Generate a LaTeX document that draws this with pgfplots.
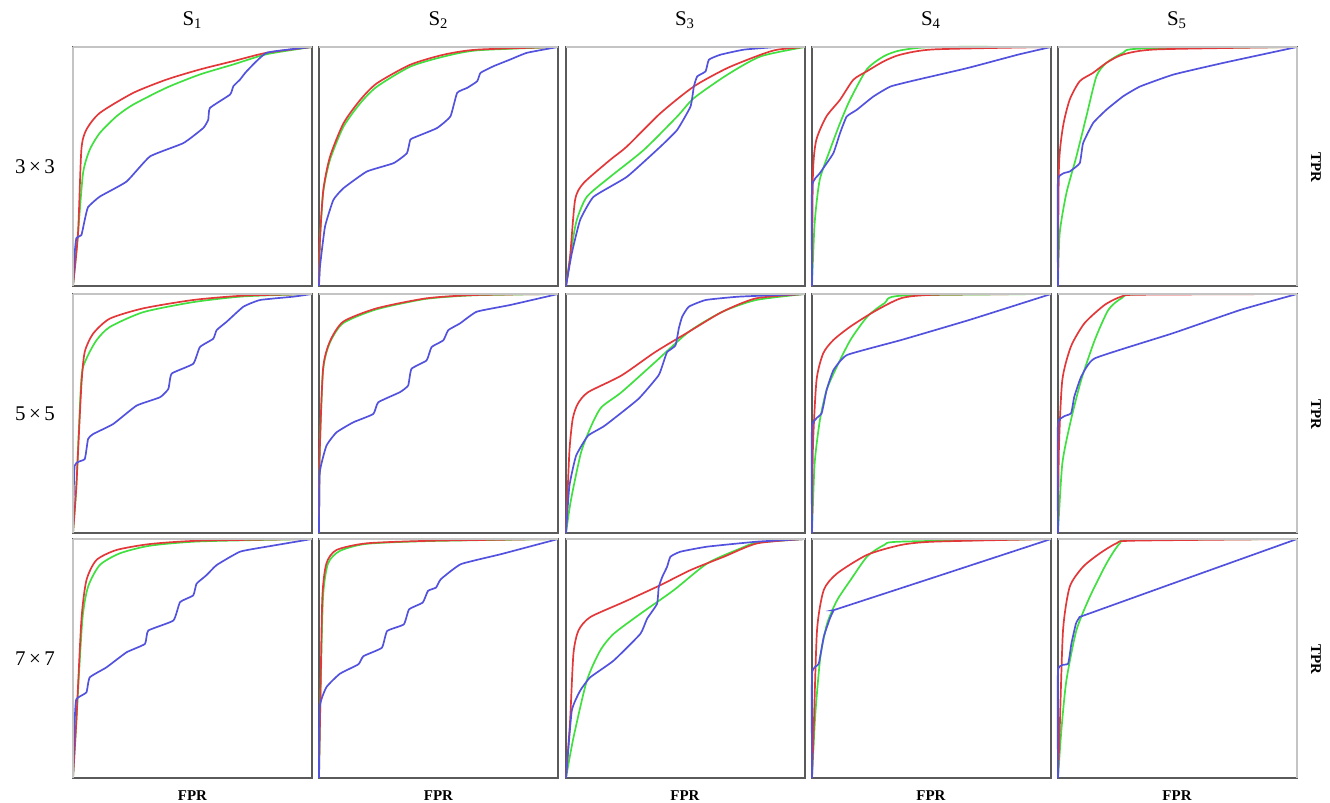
\documentclass[border=0pt]{standalone}
\usepackage{pgfplots}
\pgfplotsset{compat=1.18}
\usepackage{fontspec}
\setmainfont{Liberation Serif}

\definecolor{rocred}{HTML}{E2383A}
\definecolor{rocgreen}{HTML}{3FE03F}
\definecolor{rocblue}{HTML}{5252DE}
\definecolor{framedark}{HTML}{5A5A5A}
\definecolor{framelight}{HTML}{C4C4C4}

\pgfplotsset{
  panel/.style={
    anchor=north west, scale only axis,
    width=119.5bp, height=119.5bp,
    xmin=0, xmax=1, ymin=0, ymax=1,
    ticks=none, clip=false,
    axis line style={draw=framedark, line width=0.9pt},
  },
  rr/.style={rocred, line width=0.85pt, smooth, tension=0.4},
  gg/.style={rocgreen, line width=0.85pt, smooth, tension=0.4},
  bb/.style={rocblue, line width=0.85pt, smooth, tension=0.25},
}

% #1 extra axis keys, #2 x, #3 y, #4 red, #5 green, #6 blue
\newcommand{\rocpanel}[6]{%
  \begin{axis}[panel, at={(#2,#3)}, #1]
    \addplot[gg] coordinates {#5};
    \addplot[rr] coordinates {#4};
    \addplot[bb] coordinates {#6};
    \draw[framelight, line width=1pt] (rel axis cs:0,1) -- (rel axis cs:1,1);
  \end{axis}}
\pgfplotsset{
  leftcol/.style={execute at end axis={\draw[framelight, line width=1pt] (rel axis cs:0,0) -- (rel axis cs:0,1);}},
  rightcol/.style={execute at end axis={\draw[framelight, line width=1pt] (rel axis cs:1,0) -- (rel axis cs:1,1);}},
}

\begin{document}
\begin{tikzpicture}
\path[use as bounding box] (0,0) rectangle (665bp,-401.5bp);

% ---------------- row 1 : 3x3 ----------------
\rocpanel{leftcol}{36.5bp}{-23.5bp}
{(0,0) (0.021,0.22) (0.035,0.57) (0.056,0.654) (0.112,0.724) (0.252,0.808) (0.392,0.864) (0.531,0.906) (0.671,0.941) (0.811,0.976) (1,1)}
{(0,0) (0.021,0.22) (0.042,0.472) (0.07,0.57) (0.112,0.64) (0.182,0.71) (0.252,0.759) (0.392,0.83) (0.531,0.885) (0.671,0.927) (0.811,0.97) (1,1)}
{(0,0) (0.007,0.136) (0.014,0.2) (0.035,0.213) (0.049,0.276) (0.063,0.33) (0.112,0.374) (0.224,0.437) (0.322,0.542) (0.462,0.598) (0.545,0.661) (0.566,0.696) (0.573,0.745) (0.657,0.801) (0.671,0.836) (0.699,0.864) (0.727,0.899) (0.811,0.976) (1,1)}

\rocpanel{}{159.5bp}{-23.5bp}
{(0,0) (0.004,0.192) (0.018,0.402) (0.046,0.541) (0.102,0.68) (0.172,0.778) (0.242,0.848) (0.382,0.926) (0.522,0.968) (0.662,0.989) (1,1)}
{(0,0) (0.004,0.19) (0.018,0.395) (0.046,0.528) (0.102,0.666) (0.172,0.764) (0.242,0.834) (0.382,0.918) (0.522,0.96) (0.662,0.986) (1,1)}
{(0,0) (0.004,0.08) (0.025,0.248) (0.06,0.36) (0.102,0.409) (0.2,0.479) (0.312,0.514) (0.368,0.556) (0.382,0.612) (0.41,0.626) (0.494,0.661) (0.55,0.71) (0.578,0.808) (0.62,0.829) (0.662,0.857) (0.676,0.892) (0.731,0.92) (0.801,0.948) (0.871,0.976) (1,1)}

\rocpanel{}{283bp}{-23.5bp}
{(0,0) (0.017,0.122) (0.038,0.36) (0.073,0.43) (0.185,0.528) (0.255,0.584) (0.395,0.723) (0.535,0.835) (0.675,0.912) (0.815,0.968) (0.885,0.989) (1,1)}
{(0,0) (0.024,0.164) (0.045,0.276) (0.087,0.373) (0.185,0.457) (0.325,0.569) (0.465,0.709) (0.535,0.786) (0.675,0.884) (0.815,0.961) (1,1)}
{(0,0) (0.024,0.136) (0.059,0.276) (0.115,0.373) (0.255,0.457) (0.395,0.583) (0.465,0.653) (0.521,0.751) (0.535,0.835) (0.549,0.877) (0.584,0.898) (0.598,0.947) (0.647,0.968) (0.745,0.989) (0.885,1) (1,1)}

\rocpanel{}{406bp}{-23.5bp}
{(0,0) (0.004,0.471) (0.018,0.611) (0.06,0.709) (0.117,0.779) (0.173,0.863) (0.229,0.898) (0.3,0.94) (0.37,0.968) (0.511,0.99) (1,1)}
{(0,0) (0.011,0.262) (0.032,0.443) (0.075,0.569) (0.117,0.681) (0.159,0.779) (0.229,0.906) (0.3,0.961) (0.37,0.986) (0.511,1) (1,1)}
{(0,0) (0,0.415) (0.032,0.471) (0.089,0.555) (0.117,0.639) (0.145,0.709) (0.187,0.737) (0.257,0.793) (0.329,0.835) (0.44,0.863) (0.651,0.912) (0.862,0.968) (1,1)}

\rocpanel{rightcol}{529bp}{-23.5bp}
{(0,0) (0.004,0.5) (0.021,0.668) (0.049,0.78) (0.091,0.857) (0.147,0.892) (0.203,0.934) (0.273,0.969) (0.414,0.99) (1,1)}
{(0,0) (0.007,0.22) (0.035,0.388) (0.077,0.542) (0.119,0.711) (0.161,0.878) (0.203,0.934) (0.273,0.976) (0.344,0.993) (1,1)}
{(0,0) (0,0.444) (0.049,0.479) (0.091,0.514) (0.105,0.598) (0.147,0.682) (0.203,0.738) (0.273,0.794) (0.344,0.835) (0.484,0.885) (0.694,0.934) (1,1)}

% ---------------- row 2 : 5x5 ----------------
\rocpanel{leftcol}{36.5bp}{-147bp}
{(0,0) (0.014,0.196) (0.035,0.617) (0.049,0.757) (0.084,0.834) (0.154,0.897) (0.294,0.94) (0.503,0.975) (0.713,0.993) (1,1)}
{(0,0) (0.014,0.196) (0.035,0.645) (0.056,0.729) (0.098,0.806) (0.154,0.862) (0.294,0.924) (0.503,0.966) (0.713,0.99) (1,1)}
{(0,0) (0.007,0.281) (0.049,0.309) (0.063,0.393) (0.084,0.414) (0.168,0.456) (0.266,0.533) (0.364,0.568) (0.399,0.603) (0.413,0.667) (0.503,0.708) (0.531,0.778) (0.587,0.813) (0.601,0.849) (0.643,0.884) (0.713,0.947) (0.783,0.975) (0.923,0.989) (1,1)}

\rocpanel{}{159.5bp}{-147bp}
{(0,0) (0.003,0.337) (0.017,0.687) (0.045,0.8) (0.101,0.884) (0.241,0.94) (0.45,0.982) (0.66,0.996) (1,1)}
{(0,0) (0.003,0.33) (0.017,0.68) (0.045,0.795) (0.101,0.878) (0.241,0.936) (0.45,0.98) (0.66,0.995) (1,1)}
{(0,0) (0.003,0.252) (0.031,0.365) (0.073,0.421) (0.143,0.463) (0.227,0.498) (0.248,0.547) (0.338,0.589) (0.373,0.617) (0.387,0.687) (0.45,0.722) (0.471,0.778) (0.52,0.806) (0.541,0.849) (0.59,0.877) (0.66,0.926) (0.8,0.954) (1,1)}

\rocpanel{}{283bp}{-147bp}
{(0,0) (0.014,0.337) (0.028,0.477) (0.049,0.54) (0.092,0.589) (0.232,0.659) (0.373,0.757) (0.514,0.842) (0.655,0.926) (0.796,0.982) (1,1)}
{(0,0) (0.021,0.14) (0.063,0.337) (0.106,0.449) (0.148,0.526) (0.232,0.589) (0.373,0.715) (0.514,0.842) (0.655,0.926) (0.796,0.975) (1,1)}
{(0,0) (0.014,0.196) (0.042,0.323) (0.092,0.407) (0.162,0.449) (0.303,0.561) (0.387,0.659) (0.408,0.715) (0.423,0.757) (0.458,0.785) (0.472,0.856) (0.486,0.905) (0.514,0.947) (0.585,0.975) (0.725,0.989) (1,1)}

\rocpanel{}{406bp}{-147bp}
{(0,0) (0.004,0.36) (0.019,0.64) (0.047,0.752) (0.09,0.808) (0.161,0.864) (0.261,0.927) (0.375,0.983) (0.518,0.997) (1,1)}
{(0,0) (0.011,0.29) (0.033,0.472) (0.061,0.598) (0.104,0.696) (0.161,0.808) (0.232,0.906) (0.304,0.962) (0.375,0.993) (1,1)}
{(0,0) (0,0.444) (0.04,0.5) (0.061,0.598) (0.09,0.682) (0.147,0.745) (0.375,0.808) (0.66,0.892) (1,1)}

\rocpanel{rightcol}{529bp}{-147bp}
{(0,0) (0.004,0.36) (0.018,0.64) (0.054,0.78) (0.111,0.878) (0.196,0.955) (0.267,0.99) (0.339,0.997) (1,1)}
{(0,0) (0.018,0.29) (0.054,0.472) (0.097,0.64) (0.154,0.808) (0.211,0.934) (0.267,0.983) (0.339,0.999) (1,1)}
{(0,0) (0,0.458) (0.054,0.5) (0.068,0.57) (0.097,0.654) (0.154,0.731) (0.481,0.836) (0.765,0.934) (1,1)}

% ---------------- row 3 : 7x7 ----------------
\rocpanel{leftcol}{36.5bp}{-269.5bp}
{(0,0) (0.014,0.238) (0.035,0.659) (0.056,0.827) (0.098,0.912) (0.182,0.954) (0.322,0.979) (0.531,0.993) (1,1)}
{(0,0) (0.014,0.238) (0.039,0.659) (0.063,0.8) (0.112,0.891) (0.196,0.94) (0.322,0.972) (0.531,0.99) (1,1)}
{(0,0) (0.007,0.238) (0.014,0.33) (0.056,0.358) (0.07,0.421) (0.14,0.463) (0.224,0.526) (0.301,0.561) (0.315,0.617) (0.42,0.659) (0.448,0.736) (0.503,0.764) (0.517,0.813) (0.559,0.849) (0.601,0.891) (0.699,0.947) (0.811,0.968) (1,1)}

\rocpanel{}{159.5bp}{-269.5bp}
{(0,0) (0.006,0.338) (0.014,0.758) (0.031,0.898) (0.073,0.954) (0.2,0.982) (0.482,0.993) (1,1)}
{(0,0) (0.006,0.338) (0.017,0.758) (0.038,0.898) (0.087,0.95) (0.2,0.98) (0.482,0.992) (1,1)}
{(0,0) (0.003,0.297) (0.031,0.38) (0.087,0.436) (0.165,0.476) (0.186,0.51) (0.263,0.545) (0.285,0.615) (0.355,0.643) (0.377,0.706) (0.434,0.734) (0.456,0.783) (0.49,0.797) (0.51,0.832) (0.594,0.895) (0.763,0.937) (1,1)}

\rocpanel{}{283bp}{-269.5bp}
{(0,0) (0.017,0.238) (0.031,0.519) (0.052,0.617) (0.101,0.673) (0.241,0.736) (0.395,0.807) (0.521,0.87) (0.661,0.926) (0.801,0.982) (1,1)}
{(0,0) (0.031,0.168) (0.087,0.407) (0.143,0.533) (0.199,0.603) (0.311,0.687) (0.451,0.786) (0.591,0.898) (0.731,0.961) (0.801,0.985) (1,1)}
{(0,0) (0.024,0.281) (0.059,0.365) (0.101,0.421) (0.199,0.491) (0.311,0.603) (0.339,0.666) (0.381,0.729) (0.388,0.799) (0.403,0.842) (0.423,0.884) (0.437,0.926) (0.479,0.947) (0.591,0.968) (0.801,0.989) (1,1)}

\rocpanel{}{406bp}{-269.5bp}
{(0,0) (0.007,0.199) (0.021,0.618) (0.049,0.786) (0.105,0.856) (0.231,0.934) (0.372,0.975) (0.512,0.989) (1,1)}
{(0,0) (0.014,0.269) (0.035,0.506) (0.063,0.646) (0.105,0.744) (0.161,0.828) (0.231,0.927) (0.302,0.975) (0.372,0.989) (1,1)}
{(0,0) (0,0.436) (0.028,0.478) (0.049,0.59) (0.075,0.668) (0.091,0.702) (0.105,0.707) (0.5,0.836) (1,1)}

\rocpanel{rightcol}{529bp}{-269.5bp}
{(0,0) (0.007,0.199) (0.021,0.618) (0.049,0.8) (0.105,0.884) (0.175,0.94) (0.245,0.982) (0.316,0.993) (1,1)}
{(0,0) (0.014,0.199) (0.035,0.408) (0.077,0.618) (0.133,0.758) (0.203,0.898) (0.259,0.982) (0.316,0.996) (1,1)}
{(0,0) (0,0.45) (0.042,0.478) (0.056,0.562) (0.075,0.646) (0.091,0.674) (0.105,0.679) (0.5,0.821) (1,1)}

% ---------------- labels ----------------
\foreach \x/\n in {96.25/1, 219.25/2, 342.5/3, 465.5/4, 588.5/5}{
  \node[font=\fontsize{10.5}{12}\selectfont] at (\x bp,-10bp) {S\textsubscript{\n}};
  \node[font=\fontsize{7.5}{9}\selectfont\bfseries] at (\x bp,-398bp) {FPR};
}
\foreach \y/\l in {-83.5/3, -207/5, -329.5/7}{
  \node[font=\fontsize{10.5}{12}\selectfont] at (17.5bp,\y bp) {\l\,×\,\l};
  \node[font=\fontsize{7.5}{9}\selectfont\bfseries, rotate=-90] at (658bp,\y bp) {TPR};
}
\end{tikzpicture}
\end{document}
